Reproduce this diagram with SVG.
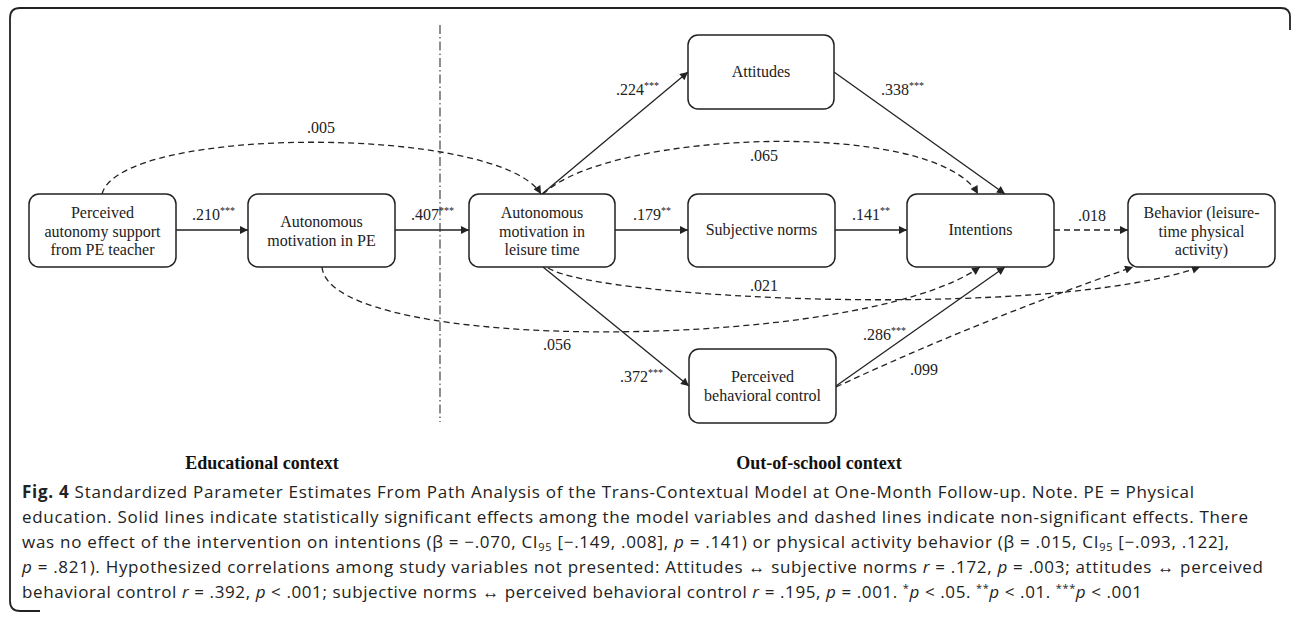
<svg xmlns="http://www.w3.org/2000/svg" width="1292" height="618" viewBox="0 0 1292 618">
<defs>
<marker id="arr" viewBox="0 0 10 10" refX="10" refY="5" markerWidth="10" markerHeight="8" markerUnits="userSpaceOnUse" orient="auto">
<path d="M0,0 L10,5 L0,10 z" fill="#222"/>
</marker>
<style>
.box{fill:#fff;stroke:#222;stroke-width:1.5}
.t{font-family:"Liberation Serif","Times New Roman",serif;font-size:16px;fill:#222;text-anchor:middle}
.lb{font-family:"Liberation Serif","Times New Roman",serif;font-size:16px;fill:#222}
.sup{font-size:10px}
.s{fill:none;stroke:#222;stroke-width:1.3;marker-end:url(#arr)}
.d{fill:none;stroke:#222;stroke-width:1.3;stroke-dasharray:6 4;marker-end:url(#arr)}
.ctx{font-family:"Liberation Serif","Times New Roman",serif;font-size:18px;font-weight:bold;fill:#111;text-anchor:middle}
.cap{font-family:"Open Sans","Noto Sans",sans-serif;font-size:17px;fill:#222}
.sub{font-size:11px}
</style>
</defs>
<rect width="1292" height="618" fill="#fff"/>
<path d="M40,611 H20 Q10,611 10,601 V18 Q10,8 20,8 H1281 Q1290,8 1290,17 V30" fill="none" stroke="#222" stroke-width="1.8"/>
<line x1="440" y1="25" x2="440" y2="422" stroke="#333" stroke-width="1.1" stroke-dasharray="9 3 1.5 3"/>
<g id="connectors">
<line class="s" x1="176" y1="230" x2="248" y2="230"/>
<line class="s" x1="395" y1="230" x2="469" y2="230"/>
<line class="s" x1="615" y1="230" x2="688" y2="230"/>
<line class="s" x1="835" y1="230" x2="907" y2="230"/>
<line class="d" x1="1054" y1="230" x2="1128" y2="230"/>
<line class="s" x1="542" y1="194" x2="688" y2="72"/>
<line class="s" x1="834" y1="72" x2="1005" y2="194"/>
<line class="s" x1="543" y1="267" x2="689" y2="386"/>
<line class="s" x1="836" y1="386" x2="1005" y2="267"/>
<path class="d" d="M102,194 C120,125 500,125 541,194"/>
<path class="d" d="M543,194 C610,130 935,118 978,194"/>
<path class="d" d="M548,268 C600,300 1050,320 1200,267"/>
<path class="d" d="M322,267 C330,355 860,352 980,267"/>
<path class="d" d="M836,387 Q980,320 1133,267"/>
</g>
<g id="labels">
<text class="lb" x="192" y="220">.210<tspan class="sup" dy="-6">***</tspan></text>
<text class="lb" x="411" y="220">.407<tspan class="sup" dy="-6">***</tspan></text>
<text class="lb" x="633" y="220">.179<tspan class="sup" dy="-6">**</tspan></text>
<text class="lb" x="852" y="220">.141<tspan class="sup" dy="-6">**</tspan></text>
<text class="lb" x="1078" y="221">.018</text>
<text class="lb" x="616" y="95">.224<tspan class="sup" dy="-6">***</tspan></text>
<text class="lb" x="881" y="95">.338<tspan class="sup" dy="-6">***</tspan></text>
<text class="lb" x="307" y="133">.005</text>
<text class="lb" x="750" y="161">.065</text>
<text class="lb" x="750" y="291">.021</text>
<text class="lb" x="543" y="350">.056</text>
<text class="lb" x="620" y="382">.372<tspan class="sup" dy="-6">***</tspan></text>
<text class="lb" x="863" y="340">.286<tspan class="sup" dy="-6">***</tspan></text>
<text class="lb" x="910" y="375">.099</text>
</g>
<g id="n-pas">
<rect class="box" x="29" y="194" width="147" height="73" rx="10"/>
<text class="t" x="102.5" y="218">Perceived</text>
<text class="t" x="102.5" y="237">autonomy support</text>
<text class="t" x="102.5" y="255">from PE teacher</text>
</g>
<g id="n-ampe">
<rect class="box" x="248" y="194" width="147" height="73" rx="10"/>
<text class="t" x="321.5" y="227">Autonomous</text>
<text class="t" x="321.5" y="246">motivation in PE</text>
</g>
<g id="n-amlt">
<rect class="box" x="469" y="194" width="146" height="73" rx="10"/>
<text class="t" x="542" y="218">Autonomous</text>
<text class="t" x="542" y="237">motivation in</text>
<text class="t" x="542" y="255">leisure time</text>
</g>
<g id="n-att">
<rect class="box" x="688" y="35" width="146" height="74" rx="10"/>
<text class="t" x="761" y="77">Attitudes</text>
</g>
<g id="n-sn">
<rect class="box" x="688" y="194" width="147" height="73" rx="10"/>
<text class="t" x="761.5" y="235">Subjective norms</text>
</g>
<g id="n-pbc">
<rect class="box" x="689" y="349" width="147" height="74" rx="10"/>
<text class="t" x="762.5" y="382">Perceived</text>
<text class="t" x="762.5" y="401">behavioral control</text>
</g>
<g id="n-int">
<rect class="box" x="907" y="194" width="147" height="73" rx="10"/>
<text class="t" x="980.5" y="235">Intentions</text>
</g>
<g id="n-beh">
<rect class="box" x="1128" y="194" width="147" height="73" rx="10"/>
<text class="t" x="1201.5" y="218">Behavior (leisure-</text>
<text class="t" x="1201.5" y="237">time physical</text>
<text class="t" x="1201.5" y="255">activity)</text>
</g>
<text class="ctx" x="262" y="469">Educational context</text>
<text class="ctx" x="819" y="469">Out-of-school context</text>
<g id="caption">
<text class="cap" x="22" y="498" textLength="1172" lengthAdjust="spacing"><tspan font-weight="bold">Fig. 4</tspan> Standardized Parameter Estimates From Path Analysis of the Trans-Contextual Model at One-Month Follow-up. Note. PE = Physical</text>
<text class="cap" x="22" y="523" textLength="1226" lengthAdjust="spacing">education. Solid lines indicate statistically significant effects among the model variables and dashed lines indicate non-significant effects. There</text>
<text class="cap" x="22" y="548" textLength="1207" lengthAdjust="spacing">was no effect of the intervention on intentions (β = −.070, CI<tspan class="sub" dy="3">95</tspan><tspan dy="-3"> [−.149, .008], </tspan><tspan font-style="italic">p</tspan> = .141) or physical activity behavior (β = .015, CI<tspan class="sub" dy="3">95</tspan><tspan dy="-3"> [−.093, .122],</tspan></text>
<text class="cap" x="22" y="573" textLength="1241" lengthAdjust="spacing"><tspan font-style="italic">p</tspan> = .821). Hypothesized correlations among study variables not presented: Attitudes ↔ subjective norms <tspan font-style="italic">r</tspan> = .172, <tspan font-style="italic">p</tspan> = .003; attitudes ↔ perceived</text>
<text class="cap" x="22" y="598" textLength="1120" lengthAdjust="spacing">behavioral control <tspan font-style="italic">r</tspan> = .392, <tspan font-style="italic">p</tspan> &lt; .001; subjective norms ↔ perceived behavioral control <tspan font-style="italic">r</tspan> = .195, <tspan font-style="italic">p</tspan> = .001. <tspan class="sub" dy="-6">*</tspan><tspan font-style="italic" dy="6">p</tspan> &lt; .05. <tspan class="sub" dy="-6">**</tspan><tspan font-style="italic" dy="6">p</tspan> &lt; .01. <tspan class="sub" dy="-6">***</tspan><tspan font-style="italic" dy="6">p</tspan> &lt; .001</text>
</g>
</svg>
